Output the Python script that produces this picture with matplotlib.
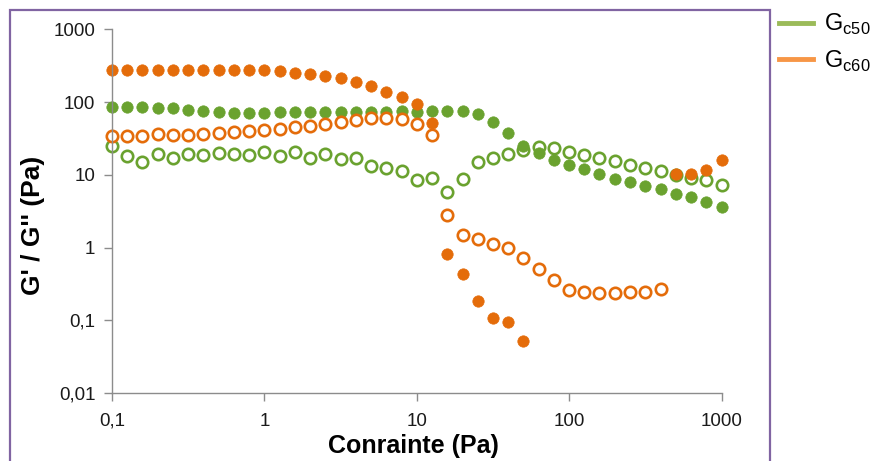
import numpy as np
import matplotlib
matplotlib.use("Agg")
import matplotlib.pyplot as plt
from matplotlib.lines import Line2D
from matplotlib.patches import Rectangle

plt.rcParams["font.family"] = ["Liberation Sans", "DejaVu Sans"]

# contrainte (Pa), 10 points par décade
stress = [0.1, 0.126, 0.158, 0.2, 0.251, 0.316, 0.398, 0.501, 0.631, 0.794,
          1.0, 1.26, 1.58, 2.0, 2.51, 3.16, 3.98, 5.01, 6.31, 7.94,
          10, 12.6, 15.8, 20, 25.1, 31.6, 39.8, 50.1, 63.1, 79.4,
          100, 126, 158, 200, 251, 316, 398, 501, 631, 794, 1000]

nan = np.nan
# Gc50 : G' (plein) et G'' (vide)
gc50_gp = [84.6, 84.6, 84.6, 81.8, 81.8, 77.6, 75.2, 72.2, 69.9, 69.9,
           71.3, 72.2, 72.2, 72.2, 72.2, 73.6, 73.6, 73.6, 73.6, 76.0,
           73.6, 75.2, 75.2, 75.2, 67.8, 53.6, 37.8, 25.1, 19.7, 15.9,
           13.6, 11.9, 10.2, 8.9, 7.9, 7.0, 6.3, 5.5, 4.9, 4.3, 3.6]
gc50_gs = [24.8, 18.1, 14.8, 19.3, 17.3, 19.1, 18.7, 20.1, 19.1, 18.7,
           20.7, 18.2, 20.7, 17.3, 19.1, 16.3, 17.3, 13.3, 12.5, 11.3,
           8.5, 9.2, 5.8, 8.7, 15.1, 16.8, 19.5, 22.0, 24.5, 23.5,
           20.7, 18.7, 17.3, 15.6, 13.6, 12.5, 11.3, 10.0, 9.2, 8.5, 7.2]
# Gc60
gc60_gp = [275, 278, 278, 273, 278, 278, 278, 278, 278, 273,
           273, 267, 253, 240, 228, 212, 190, 166, 137, 117,
           93, 52, 0.81, 0.43, 0.185, 0.107, 0.096, 0.053, nan, nan,
           nan, nan, nan, nan, nan, nan, nan, 10.4, 10.4, 11.6, 16.1]
gc60_gs = [34.0, 34.0, 34.0, 36.3, 35.2, 35.2, 36.6, 37.5, 39.0, 39.9,
           41.2, 42.5, 45.3, 46.8, 49.3, 53.6, 56.5, 59.7, 59.7, 57.8,
           49.8, 35.2, 2.79, 1.51, 1.32, 1.12, 0.99, 0.72, 0.515, 0.364,
           0.265, 0.246, 0.241, 0.241, 0.246, 0.246, 0.268, nan, nan, nan, nan]

green = "#6AA22F"
orange = "#E46C0A"
ms = 8.2

fig = plt.figure(figsize=(8.76, 4.61), dpi=100)
ax = fig.add_axes([0.1279, 0.1469, 0.6958, 0.7896])

ax.plot(stress, gc50_gs, "o", ls="none", ms=ms, mfc="white", mec=green, mew=1.9, clip_on=False)
ax.plot(stress, gc50_gp, "o", ls="none", ms=ms, mfc=green, mec=green, mew=0.5, clip_on=False)
ax.plot(stress, gc60_gs, "o", ls="none", ms=ms, mfc="white", mec=orange, mew=1.9, clip_on=False)
ax.plot(stress, gc60_gp, "o", ls="none", ms=ms, mfc=orange, mec=orange, mew=0.5, clip_on=False)

ax.set_xscale("log")
ax.set_yscale("log")
ax.set_xlim(0.1, 1000)
ax.set_ylim(0.01, 1000)
ax.set_xticks([0.1, 1, 10, 100, 1000], ["0,1", "1", "10", "100", "1000"])
ax.set_yticks([0.01, 0.1, 1, 10, 100, 1000], ["0,01", "0,1", "1", "10", "100", "1000"])
ax.minorticks_off()
for s in ["top", "right"]:
    ax.spines[s].set_visible(False)
for s in ["left", "bottom"]:
    ax.spines[s].set_color("#8C8C8C")
    ax.spines[s].set_linewidth(1.0)
ax.tick_params(colors="#8C8C8C", labelcolor="#1a1a1a", labelsize=13.5, length=6, width=1)
ax.tick_params(axis="x", pad=8)
ax.tick_params(axis="y", pad=6)

ax.set_xlabel("Conrainte (Pa)", fontsize=18, fontweight="bold")
ax.xaxis.set_label_coords(0.494, -0.113)
ax.set_ylabel("G' / G'' (Pa)", fontsize=19, fontweight="bold")
ax.yaxis.set_label_coords(-0.110, 0.462)

# cadre violet de la zone de graphique
fig.patches.append(Rectangle((10 / 876, -0.05), 760 / 876, 1 - 10 / 461 + 0.05,
                             transform=fig.transFigure, fill=False,
                             ec="#8064A2", lw=1.6))

handles = [Line2D([], [], color="#9BBB59", lw=3.5),
           Line2D([], [], color="#F79646", lw=3.5)]
fig.legend(handles, [r"G$_\mathregular{c50}$", r"G$_\mathregular{c60}$"],
           loc="upper left", bbox_to_anchor=(772 / 876, 1 - 5 / 461), frameon=False,
           fontsize=17, handlelength=1.45, handletextpad=0.45, labelspacing=0.48,
           borderaxespad=0.0, borderpad=0.3)

fig.savefig("out.png", dpi=100)
